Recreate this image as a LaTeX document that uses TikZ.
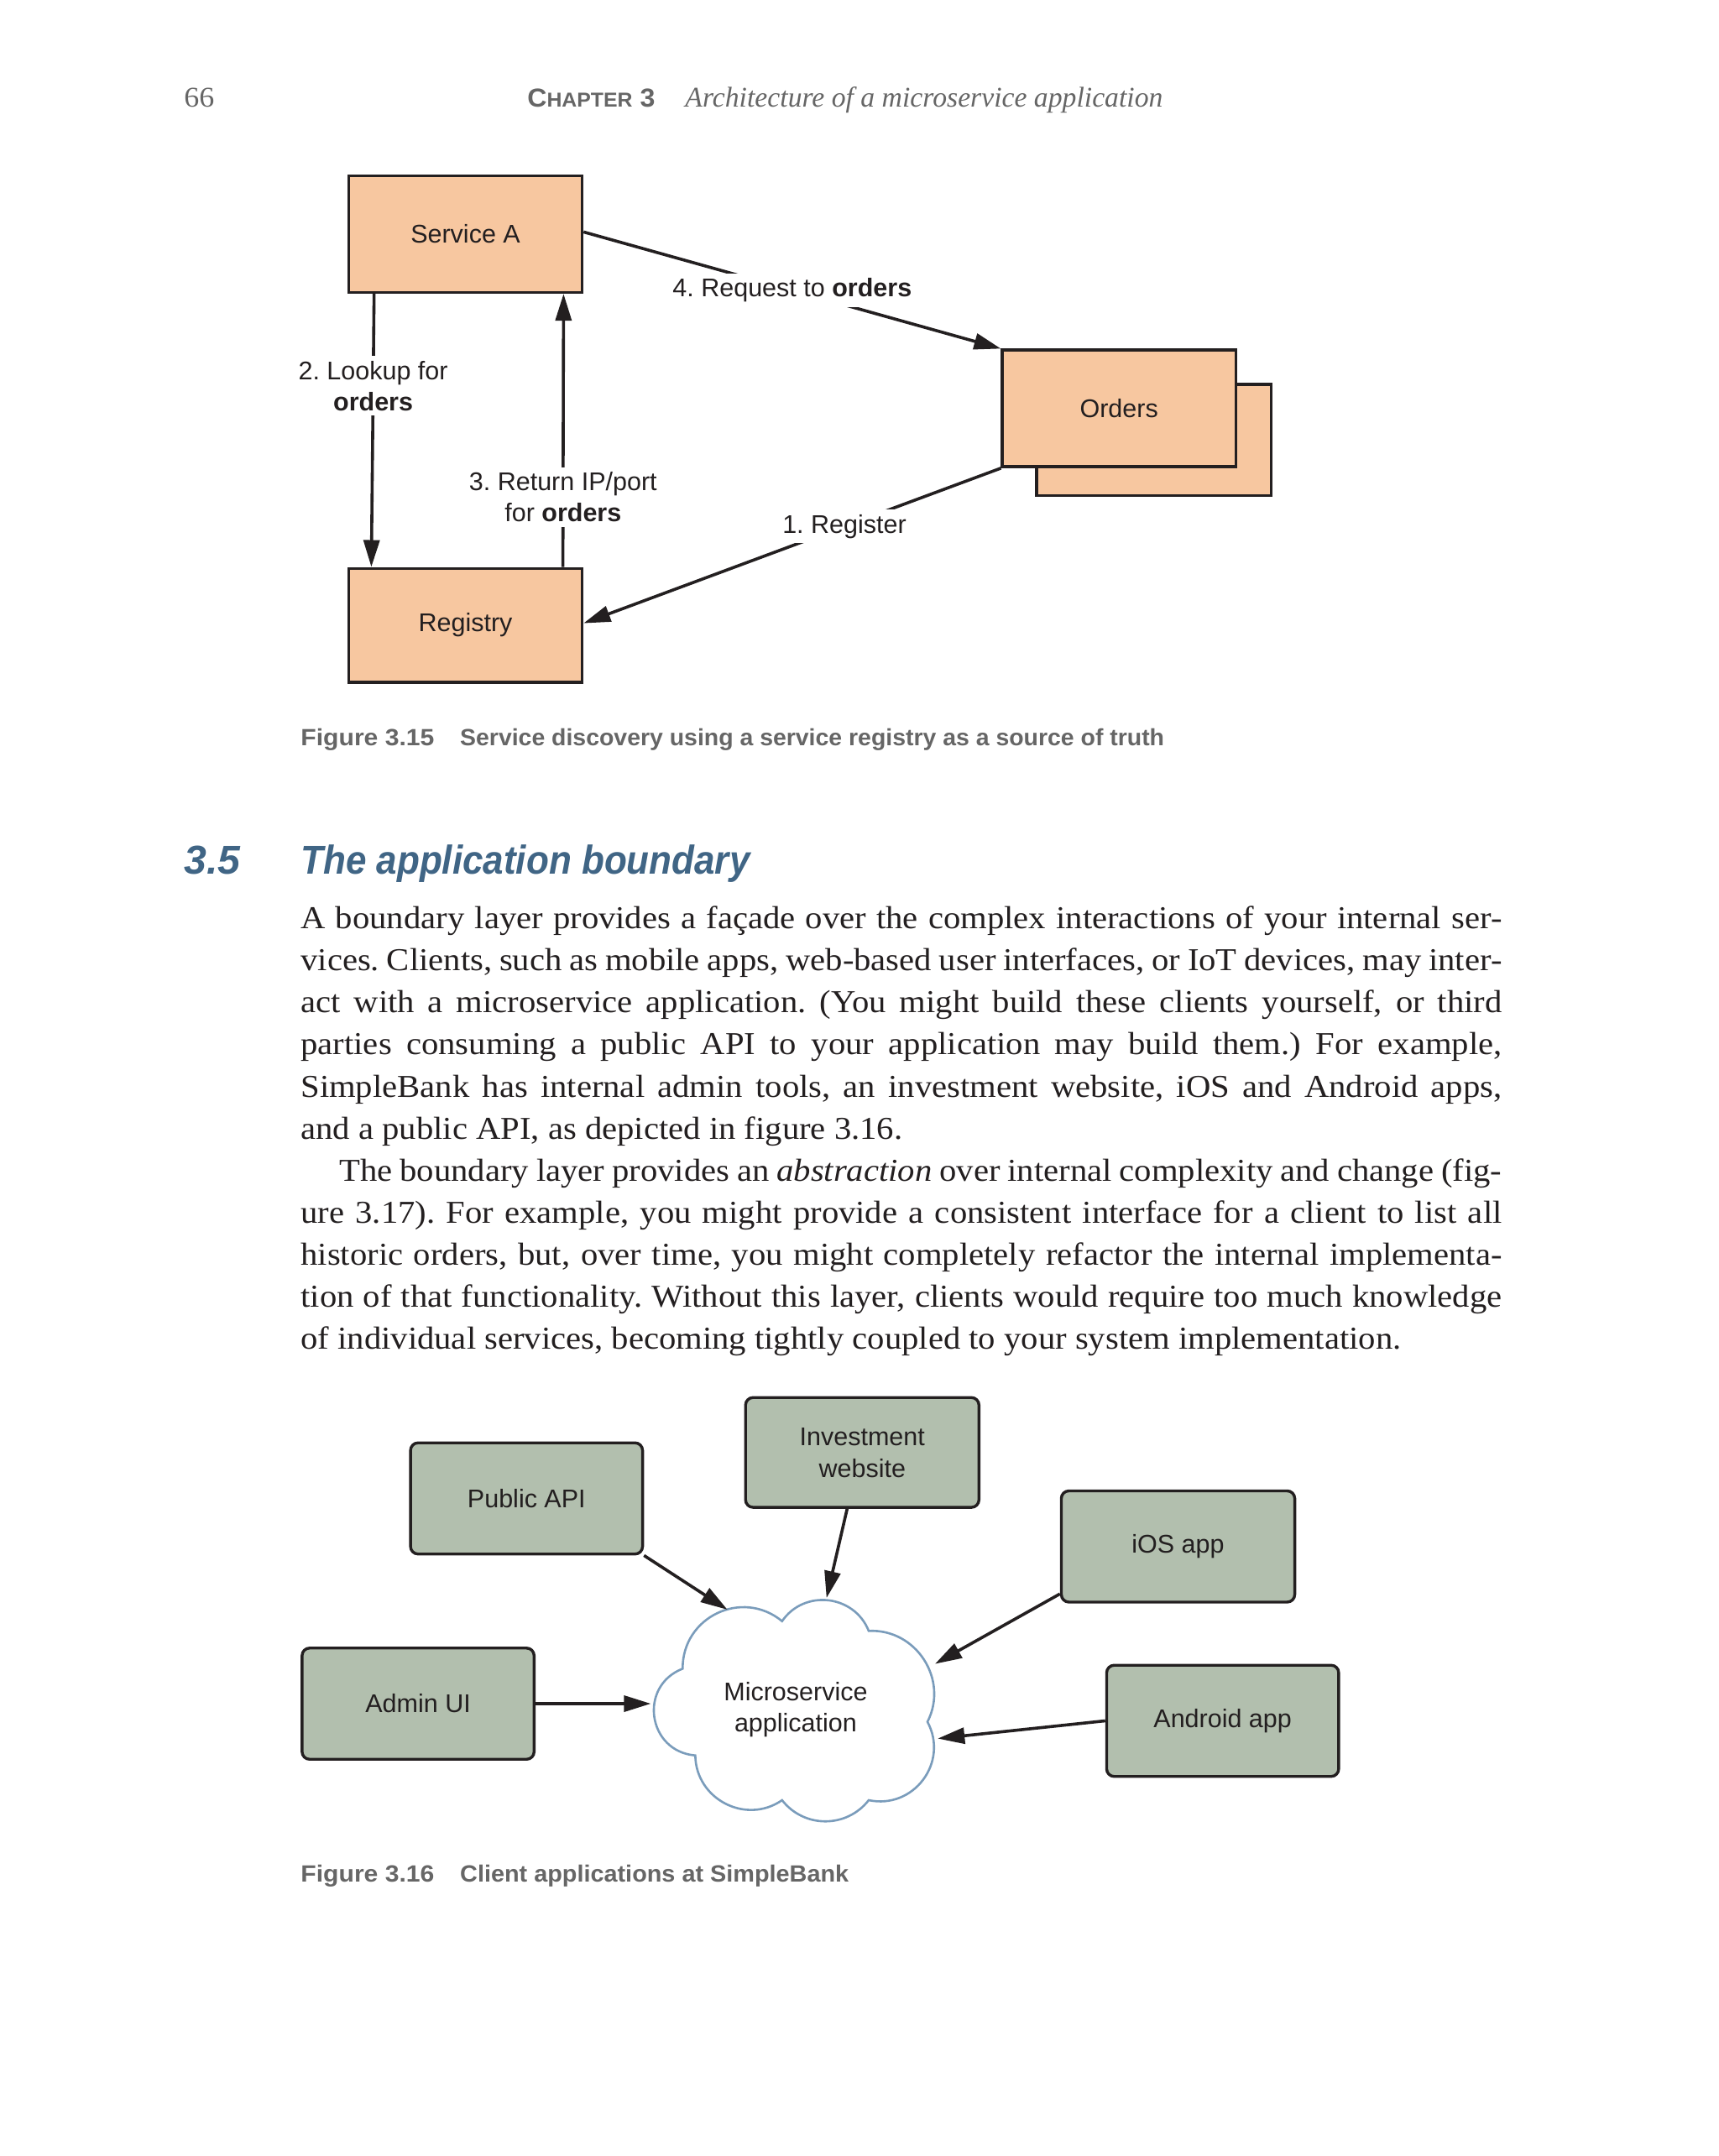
\documentclass[tikz,border=0pt]{standalone}
\usepackage{fontspec}
\setmainfont{Liberation Serif}
\setsansfont{Liberation Sans}
\newfontfamily\bodyfont[FakeStretch=1.07]{Liberation Serif}
\usetikzlibrary{arrows.meta,calc}
\definecolor{orangebox}{HTML}{F7C7A0}
\definecolor{greenbox}{HTML}{B2BFAE}
\definecolor{cloudline}{HTML}{7A9CBB}
\definecolor{capgray}{HTML}{666666}
\definecolor{headblue}{HTML}{406585}
\definecolor{inkblack}{HTML}{231F20}
\tikzset{
  dims/.style 2 args={minimum width=#1*1.6358pt, minimum height=#2*1.6358pt},
  obox/.style={draw=inkblack, line width=3.4pt, fill=orangebox, inner sep=0pt,
    text=inkblack, font=\sffamily\fontsize{30.5}{37}\selectfont},
  gbox/.style={draw=inkblack, line width=3.4pt, fill=greenbox, inner sep=0pt,
    rounded corners=9pt, text=inkblack, align=center,
    font=\sffamily\fontsize{30.5}{38}\selectfont},
  arr/.style={draw=inkblack, line width=3.6pt, -{Triangle[length=32pt,width=19pt]}},
  lab/.style={fill=white, inner sep=6pt, align=center, text=inkblack,
    font=\sffamily\fontsize{30.5}{37}\selectfont},
  captxt/.style={anchor=base west, inner sep=0pt, text=capgray,
    font=\sffamily\bfseries\fontsize{28}{32}\selectfont},
  hdr/.style={anchor=base west, inner sep=0pt, text=capgray},
  cloudline/.style={draw=cloudline, line width=2.6pt, fill=white, line join=miter},
  cloudtext/.style={inner sep=0pt, align=center, text=inkblack,
    font=\sffamily\fontsize{30.5}{37}\selectfont},
}
\begin{document}
\frenchspacing
\begin{tikzpicture}[x=1.6358pt,y=-1.6358pt]
\useasboundingbox[fill=white] (0,0) rectangle (1252,1570.5);

% ---------- running header ----------
\node[hdr, font=\fontsize{34}{36}\selectfont] (pg) at (134,78) {\resizebox{36pt}{\height}{66}};
\node[hdr, font=\sffamily\bfseries] (chap) at (384,78)
  {\resizebox{152pt}{\height}{{\fontsize{31}{34}\selectfont C}{\fontsize{24}{34}\selectfont HAPTER}{\fontsize{31}{34}\selectfont\ 3}}};
\node[hdr, font=\itshape\fontsize{34}{36}\selectfont] (chtitle) at (499,78)
  {\resizebox{569pt}{\height}{Architecture of a microservice application}};

% ---------- Figure 3.15 ----------
\node[obox, dims={170}{85}] (sa) at (339,170.5) {Service A};
\node[obox, dims={170}{83}] (reg) at (339,455.5) {Registry};
\node[obox, dims={171}{81}] (ordback) at (840.5,320.5) {};
\node[obox, dims={170}{85}] (ord) at (815,297.5) {Orders};

\draw[arr] ($(sa.south west)+(19.5,0)$) -- node[lab, pos=0.337] {2. Lookup for\\\textbf{orders}} ($(reg.north west)+(17.5,0)$);
\draw[arr] ($(reg.north west)+(157,0)$) -- node[lab, pos=0.256] {3. Return IP/port\\for \textbf{orders}} ($(sa.south west)+(157.5,0)$);
\draw[arr] ($(sa.north east)+(0,42)$) -- node[lab, pos=0.5] {4. Request to \textbf{orders}} (ord.north west);
\draw[arr] (ord.south west) -- node[lab, pos=0.375] {1. Register} ($(reg.north east)+(0,41)$);

\node[captxt] (cap15a) at (219,543) {\resizebox{159pt}{\height}{Figure 3.15}};
\node[captxt] (cap15b) at (335,543) {\resizebox{839pt}{\height}{Service discovery using a service registry as a source of truth}};

% ---------- Section heading ----------
\node[anchor=base west, inner sep=0pt, text=headblue, font=\sffamily\bfseries\itshape\fontsize{48}{50}\selectfont] (secnum) at (134,636.5) {\resizebox{67pt}{\height}{3.5}};
\node[anchor=base west, inner sep=0pt, text=headblue, font=\sffamily\bfseries\itshape\fontsize{48}{50}\selectfont] (sectitle) at (219,636.5) {\resizebox{535pt}{\height}{The application boundary}};

% ---------- Body text ----------
\node[anchor=base west, inner sep=0pt, text=inkblack] (body) at (219,676.5) {\parbox[t]{1431pt}{\bodyfont\fontsize{38}{50.1}\selectfont\frenchspacing
\makebox[\linewidth][s]{A boundary layer provides a façade over the complex interactions of your internal ser-}\\
\makebox[\linewidth][s]{vices. Clients, such as mobile apps, web-based user interfaces, or IoT devices, may inter-}\\
\makebox[\linewidth][s]{act with a microservice application. (You might build these clients yourself, or third}\\
\makebox[\linewidth][s]{parties consuming a public API to your application may build them.) For example,}\\
\makebox[\linewidth][s]{SimpleBank has internal admin tools, an investment website, iOS and Android apps,}\\
\makebox[\linewidth][l]{and a public API, as depicted in figure 3.16.}\\
\hspace*{46pt}\makebox[\dimexpr\linewidth-46pt\relax][s]{The boundary layer provides an \textit{abstraction} over internal complexity and change (fig-}\\
\makebox[\linewidth][s]{ure 3.17). For example, you might provide a consistent interface for a client to list all}\\
\makebox[\linewidth][s]{historic orders, but, over time, you might completely refactor the internal implementa-}\\
\makebox[\linewidth][s]{tion of that functionality. Without this layer, clients would require too much knowledge}\\
\makebox[\linewidth][l]{of individual services, becoming tightly coupled to your system implementation.}}};

% ---------- Figure 3.16 ----------
\node[gbox, dims={170}{80}] (inv) at (628,1058) {Investment\\website};
\node[gbox, dims={169}{81}] (pub) at (383.5,1091.5) {Public API};
\node[gbox, dims={170}{81}] (ios) at (858,1126.5) {iOS app};
\node[gbox, dims={169}{81}] (adm) at (304.5,1241) {Admin UI};
\node[gbox, dims={169}{81}] (andr) at (890.5,1253.5) {Android app};

% cloud outline (cusps of the puffs)
\coordinate (c1) at (497.2,1215.5);
\coordinate (c2) at (569.6,1180.9);
\coordinate (c3) at (632.7,1188.0);
\coordinate (c4) at (675.5,1254.2);
\coordinate (c5) at (632.7,1311.3);
\coordinate (c6) at (569.6,1311.3);
\coordinate (c7) at (506.4,1278.7);
\path[cloudline] (c1) to[bend left=65, looseness=1.2] (c2)
  to[bend left=62, looseness=1.15] (c3)
  to[bend left=60, looseness=1.12] (c4)
  to[bend left=65, looseness=1.2] (c5)
  to[bend left=52, looseness=1.06] (c6)
  to[bend left=62, looseness=1.15] (c7)
  to[bend left=77, looseness=1.4] (c1) -- cycle;
\node[cloudtext] (ms) at (579.5,1245.5) {Microservice\\application};

\coordinate (tpub) at (529.8,1172.5);
\coordinate (tinv) at (602,1164);
\coordinate (tios) at (681,1212);
\coordinate (tadm) at (474,1241);
\coordinate (tand) at (683,1266.4);

\draw[arr] (pub.south east) -- (tpub);
\draw[arr] ($(inv.south)+(-11,0)$) -- (tinv);
\draw[arr] ($(ios.south west)+(0,-7)$) -- (tios);
\draw[arr] (adm.east) -- (adm.east -| tadm);
\draw[arr] (andr.west) -- (tand);

\node[captxt] (cap16a) at (219,1371) {\resizebox{159pt}{\height}{Figure 3.16}};
\node[captxt] (cap16b) at (335,1371) {\resizebox{463pt}{\height}{Client applications at SimpleBank}};
\end{tikzpicture}
\end{document}
